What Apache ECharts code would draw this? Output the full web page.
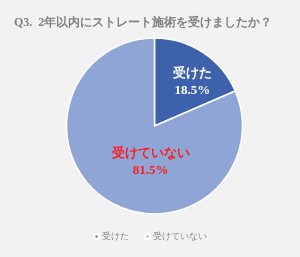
<!DOCTYPE html>
<html><head><meta charset="utf-8">
<script src="https://cdn.jsdelivr.net/npm/echarts@6/dist/echarts.min.js"></script>
<style>html,body{margin:0;padding:0;background:#f2f2f2;}#c{width:300px;height:257px;}</style>
</head><body><div id="c"></div>
<script>
const titleText = 'Q3.  2年以内にストレート施術を受けましたか？';
const categories = ['受けた', '受けていない'];
const values = [18.5, 81.5];
const colors = ['#3d62ab', '#8fa5d6'];
const labelColors = ['#ffffff', '#ff1a1a'];
const labelOffsets = [[12, -5], [22, -3]];

const chart = echarts.init(document.getElementById('c'), null, {renderer: 'canvas'});
chart.setOption({
  backgroundColor: '#f2f2f2',
  title: {
    text: titleText, left: 9, top: 12,
    textStyle: {fontSize: 12, color: '#808080', fontWeight: 'bold', fontFamily: 'serif'}
  },
  legend: {
    bottom: 11, left: 'center', itemWidth: 4, itemHeight: 4, itemGap: 16, icon: 'rect',
    textStyle: {fontSize: 9, color: '#888', padding: [0, 0, 0, -2]},
    data: categories
  },
  series: [{
    type: 'pie', center: [154.5, 126], radius: 88, startAngle: 90, clockwise: true,
    animation: false,
    itemStyle: {borderColor: '#fff', borderWidth: 1.5},
    label: {position: 'inside', fontSize: 13, fontWeight: 'bold', fontFamily: 'serif', lineHeight: 17,
      formatter: p => p.name + '\n' + p.value.toFixed(1) + '%'},
    labelLine: {show: false},
    emphasis: {disabled: true},
    data: categories.map((n, i) => ({
      name: n, value: values[i],
      itemStyle: {color: colors[i]},
      label: {color: labelColors[i], offset: labelOffsets[i]}
    }))
  }]
});
</script></body></html>
